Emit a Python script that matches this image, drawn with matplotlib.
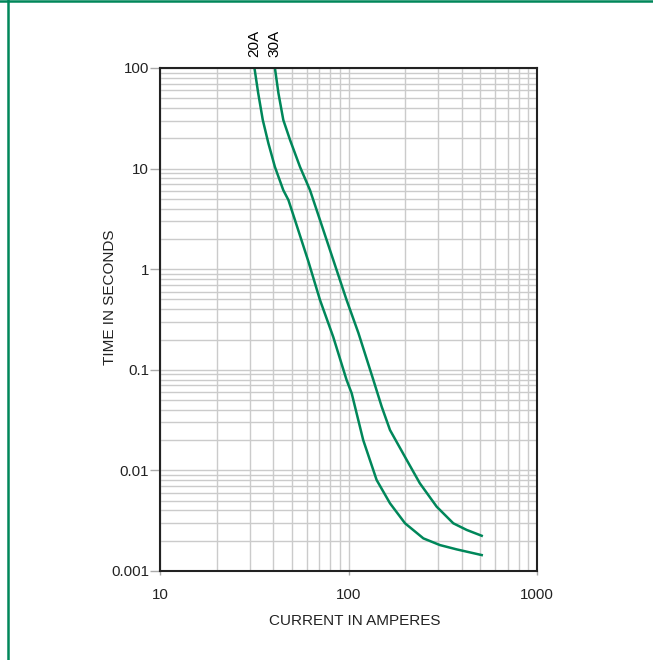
import numpy as np
import matplotlib
matplotlib.use("Agg")
import matplotlib.pyplot as plt
from matplotlib.lines import Line2D
from matplotlib.ticker import LogLocator, NullFormatter, FixedLocator, FixedFormatter

plt.rcParams['font.family'] = ['Liberation Sans', 'DejaVu Sans']

# time-current curves
amps_20 = [31.7, 33.2, 35.1, 37.6, 40.7, 45.1, 48, 52, 61.2, 70.6, 83, 97.7,
           104, 119.7, 141, 166, 199.5, 249.6, 305.6, 375, 509]
secs_20 = [100, 56, 30.4, 17.8, 10.4, 6.1, 4.87, 3.08, 1.2, 0.494, 0.212, 0.0792,
           0.0583, 0.020, 0.00803, 0.00471, 0.00298, 0.00211, 0.00181, 0.00164, 0.00144]

amps_30 = [40.7, 42.5, 45.1, 49, 55.3, 62.5, 70.6, 97.7, 112.8, 135.5, 150, 166,
           203.6, 239, 293.6, 359.7, 423.6, 509]
secs_30 = [100, 56, 30.4, 19.2, 10.4, 6.1, 3.08, 0.494, 0.233, 0.0792, 0.043, 0.0252,
           0.0127, 0.00745, 0.00436, 0.00298, 0.00256, 0.00224]

curve_labels = ["20A", "30A"]
x_ticks = [10, 100, 1000]
x_ticklabels = ["10", "100", "1000"]
y_ticks = [0.001, 0.01, 0.1, 1, 10, 100]
y_ticklabels = ["0.001", "0.01", "0.1", "1", "10", "100"]

green = '#00875a'
grid_c = '#cbcbcb'

fig = plt.figure(figsize=(6.53, 6.60), dpi=100)
ax = fig.add_axes([160/653, 1-571/660, 377/653, 503/660])

ax.set_xscale('log')
ax.set_yscale('log')
ax.set_xlim(10, 1000)
ax.set_ylim(0.001, 100)

ax.plot(amps_20, secs_20, color=green, lw=1.8, solid_joinstyle='round')
ax.plot(amps_30, secs_30, color=green, lw=1.8, solid_joinstyle='round')

for amps, lab in zip([amps_20, amps_30], curve_labels):
    ax.annotate(lab, xy=(amps[0], 100), xytext=(0, 8), textcoords='offset points',
                rotation=90, ha='center', va='bottom', fontsize=11)

ax.xaxis.set_major_locator(FixedLocator(x_ticks))
ax.xaxis.set_major_formatter(FixedFormatter(x_ticklabels))
ax.yaxis.set_major_locator(FixedLocator(y_ticks))
ax.yaxis.set_major_formatter(FixedFormatter(y_ticklabels))
ax.xaxis.set_minor_locator(LogLocator(base=10, subs=np.arange(2, 10)))
ax.yaxis.set_minor_locator(LogLocator(base=10, subs=np.arange(2, 10)))
ax.xaxis.set_minor_formatter(NullFormatter())
ax.yaxis.set_minor_formatter(NullFormatter())

ax.grid(True, which='both', color=grid_c, lw=1.0)
ax.set_axisbelow(True)
ax.tick_params(axis='both', which='minor', length=0)
ax.tick_params(axis='y', which='major', length=7, width=1, color='#aaaaaa',
               pad=1, labelsize=10.8, labelcolor='#222222')
ax.tick_params(axis='x', which='major', length=3, width=1, color='#aaaaaa',
               pad=9, labelsize=10.8, labelcolor='#222222')
for s in ax.spines.values():
    s.set_color('#222222')
    s.set_linewidth(1.5)

fig.text(110/653, 1-297/660, "TIME IN SECONDS", rotation=90, ha='center',
         va='center', fontsize=11, color='#222222')
fig.text(355/653, 1-621/660, "CURRENT IN AMPERES", ha='center', va='center',
         fontsize=11, color='#222222')

# green frame lines (top and left only)
fig.add_artist(Line2D([0, 1], [1-1.2/660, 1-1.2/660], color=green, lw=1.8,
                      transform=fig.transFigure))
fig.add_artist(Line2D([8/653, 8/653], [0, 1], color=green, lw=1.8,
                      transform=fig.transFigure))

fig.savefig("out.png", dpi=100)
